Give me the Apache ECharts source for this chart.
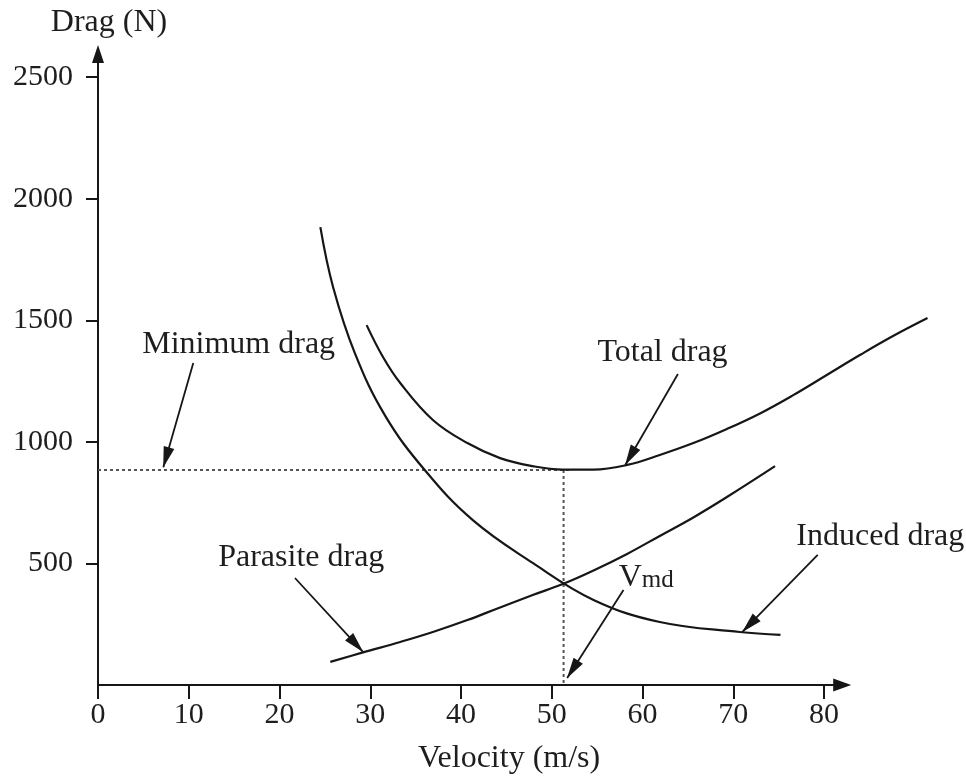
<!DOCTYPE html>
<html><head><meta charset="utf-8">
<script src="https://cdn.jsdelivr.net/npm/echarts@6/dist/echarts.min.js"></script>
<style>html,body{margin:0;padding:0;background:#fff}#c{width:966px;height:778px}</style>
</head><body><div id="c"></div>
<script>
// ---- data ----
const xTicks = [0, 10, 20, 30, 40, 50, 60, 70, 80];
const yTicks = [500, 1000, 1500, 2000, 2500];

const inducedV = [24.5, 25.9, 28.3, 31.6, 36.0, 41.3, 47.9, 54.6, 61.9, 70.7, 75.2];
const inducedD = [1883, 1637, 1365, 1110, 884, 678, 502, 350, 259, 218, 206];

const totalV = [29.6, 31.4, 33.3, 36.9, 40.7, 44.3, 47.9, 51.2, 54.6, 58.3, 61.9, 65.6, 69.3, 73.0, 76.6, 80.3, 84.0, 87.6, 91.4];
const totalD = [1480, 1349, 1242, 1090, 995, 933, 900, 886, 886, 905, 946, 995, 1053, 1118, 1192, 1275, 1358, 1435, 1509];

const parasiteV = [25.6, 29.2, 33.3, 36.9, 40.7, 44.3, 47.9, 51.2, 54.6, 58.3, 61.9, 65.6, 69.3, 74.6];
const parasiteD = [95, 134, 177, 218, 267, 319, 370, 415, 471, 539, 613, 689, 773, 900];

const minDrag = 884;
const vMd = 51.3;

const noteNames = ['Minimum drag', 'Total drag', 'Induced drag', 'Parasite drag', 'Vmd'];
const noteX = [15.5, 62.2, 86.2, 22.4, 60.4];
const noteY = [1398, 1369, 609, 522, 440];
const arrowFromX = [10.5, 63.9, 79.3, 21.7, 57.9];
const arrowFromY = [1324, 1279, 535, 440, 391];
const arrowToX = [7.2, 58.1, 71.0, 29.2, 51.7];
const arrowToY = [896, 905, 218, 136, 29];

// ---- chart ----
const FONT = "'Liberation Serif', 'Times New Roman', serif";
const INK = '#161616';
const TXT = '#1e1e1e';
const pairs = (xs, ys) => xs.map((x, i) => [x, ys[i]]);

const curve = (name, xs, ys, gi) => ({
  name, type: 'line', data: pairs(xs, ys), smooth: 0.4, symbol: 'none', clip: false,
  xAxisIndex: gi, yAxisIndex: gi,
  lineStyle: { color: INK, width: 2.2 }, emphasis: { disabled: true }, silent: true
});
const dotted = (data) => ({
  type: 'line', data, symbol: 'none', clip: false, silent: true,
  lineStyle: { color: '#555', width: 2, type: [3, 3] }, emphasis: { disabled: true }
});

const chart = echarts.init(document.getElementById('c'), null, { renderer: 'canvas' });
chart.setOption({
  animation: false,
  backgroundColor: '#fff',
  grid: [
    { left: 98, top: 54, width: 744.2, bottom: 93, containLabel: false, outerBoundsMode: 'none' },
    { left: 98, top: 54, width: 834.95, bottom: 93, containLabel: false, outerBoundsMode: 'none' }
  ],
  xAxis: [{
    type: 'value', min: 0, max: 82, gridIndex: 0,
    name: 'Velocity (m/s)', nameLocation: 'middle', nameGap: 58, nameMoveOverlap: false,
    nameTextStyle: { fontFamily: FONT, fontSize: 32, color: TXT, padding: [0, 0, 0, 78] },
    axisLine: { show: true, lineStyle: { color: INK, width: 2 }, symbol: ['none', 'triangle'], symbolSize: [13, 18] },
    axisTick: { show: true, length: 14, lineStyle: { color: INK, width: 2 }, customValues: xTicks },
    axisLabel: { customValues: xTicks, fontFamily: FONT, fontSize: 30, color: TXT, margin: 15, formatter: (v) => String(v) },
    splitLine: { show: false }
  }, {
    type: 'value', min: 0, max: 92, gridIndex: 1, show: false, splitLine: { show: false }
  }],
  yAxis: [{
    type: 'value', min: 0, max: 2595, gridIndex: 0,
    name: 'Drag (N)', nameLocation: 'end', nameGap: 15, nameMoveOverlap: false,
    nameTextStyle: { fontFamily: FONT, fontSize: 32, color: TXT, padding: [0, 0, 0, 22] },
    axisLine: { show: true, lineStyle: { color: INK, width: 2 }, symbol: ['none', 'triangle'], symbolSize: [12, 18] },
    axisTick: { show: true, length: 12, lineStyle: { color: INK, width: 2 }, customValues: yTicks },
    axisLabel: { customValues: yTicks, fontFamily: FONT, fontSize: 30, color: TXT, margin: 25, formatter: (v) => String(v) },
    splitLine: { show: false }
  }, {
    type: 'value', min: 0, max: 2595, gridIndex: 1, show: false, splitLine: { show: false }
  }],
  series: [
    dotted([[0, minDrag], [vMd + 0.6, minDrag]]),
    dotted([[vMd, minDrag], [vMd, 0]]),
    curve('Induced drag', inducedV, inducedD, 0),
    curve('Total drag', totalV, totalD, 1),
    curve('Parasite drag', parasiteV, parasiteD, 0),
    {
      type: 'line', data: [], silent: true,
      markLine: {
        silent: true, animation: false,
        symbol: ['none', 'triangle'], symbolSize: [11, 21], symbolOffset: [[0, 0], [0, 10]],
        lineStyle: { color: INK, width: 1.8, type: 'solid' },
        itemStyle: { color: INK },
        label: { show: false },
        emphasis: { disabled: true },
        data: arrowFromX.map((x, i) => [{ coord: [x, arrowFromY[i]] }, { coord: [arrowToX[i], arrowToY[i]] }])
      }
    },
    {
      type: 'scatter', clip: false, silent: true, symbolSize: 0.1,
      itemStyle: { color: 'rgba(0,0,0,0)', opacity: 1 },
      data: noteNames.map((n, i) => ({ name: n, value: [noteX[i], noteY[i]] })),
      label: {
        show: true, position: 'inside', fontFamily: FONT, fontSize: 32, color: TXT, opacity: 1,
        textBorderWidth: 0,
        formatter: (p) => p.name === 'Vmd' ? '{a|V}{b|md}' : p.name,
        rich: {
          a: { fontFamily: FONT, fontSize: 32, lineHeight: 36, color: TXT },
          b: { fontFamily: FONT, fontSize: 25, lineHeight: 27, color: TXT, verticalAlign: 'bottom', padding: [0, 0, 3, 0] }
        }
      },
      emphasis: { disabled: true }
    }
  ]
});
</script></body></html>
